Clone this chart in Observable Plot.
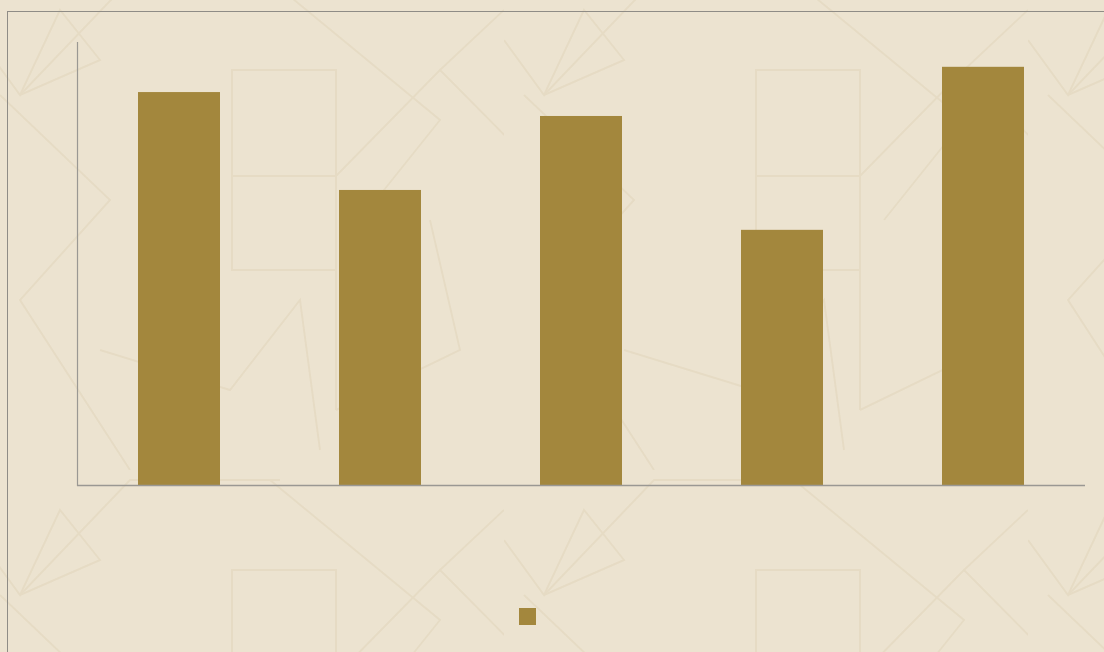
<!DOCTYPE html>
<html>
<head>
<meta charset="utf-8">
<script src="https://cdn.jsdelivr.net/npm/d3@7"></script>
<script src="https://cdn.jsdelivr.net/npm/@observablehq/plot@0.6"></script>
<style>
  html, body { margin: 0; padding: 0; width: 1104px; height: 652px; overflow: hidden; background: #ECE3D0; font-family: "Noto Sans", sans-serif; }
  #bg { position: absolute; left: 0; top: 0; width: 1104px; height: 652px; }
  #frame { position: absolute; left: 7px; top: 11px; width: 1200px; height: 700px; border-top: 1.5px solid #8f8c86; border-left: 1.5px solid #8f8c86; }
  #chart { position: absolute; left: 0; top: 0; }
  #legend { position: absolute; left: 519px; top: 608px; display: flex; align-items: center; gap: 6px; }
  .sw { width: 17px; height: 17px; background: #A3873D; }
</style>
</head>
<body>
<svg id="bg" width="1104" height="652" xmlns="http://www.w3.org/2000/svg">
  <defs>
    <pattern id="geo" x="-20" y="-30" width="524" height="500" patternUnits="userSpaceOnUse">
      <g fill="none" stroke="#E4D9C1" stroke-width="2" opacity="0.75">
        <rect x="252" y="100" width="104" height="106"/>
        <polyline points="252,206 252,300 356,300"/>
        <polyline points="356,206 356,440"/>
        <polyline points="40,125 150,10 300,10"/>
        <polyline points="356,206 460,100 565,206"/>
        <polyline points="20,125 130,230 40,330 150,500"/>
        <polyline points="40,125 120,90 80,40 40,125 0,70"/>
        <polyline points="290,10 460,150 380,250"/>
        <polyline points="120,380 250,420 320,330 340,480"/>
        <polyline points="356,440 480,380 450,250"/>
        <polyline points="460,100 524,40"/>
      </g>
    </pattern>
  </defs>
  <rect width="1104" height="652" fill="url(#geo)"/>
</svg>
<div id="frame"></div>
<div id="chart"></div>
<div id="legend"><div class="sw"></div></div>
<script>
const categories = ["1", "2", "3", "4", "5"];
const values = [88.7, 66.6, 83.3, 57.6, 94.4];
const yMax = 100;

const data = categories.map((c, i) => ({category: c, value: values[i]}));

const chart = Plot.plot({
  width: 1104,
  height: 560,
  marginLeft: 77,
  marginRight: 19,
  marginTop: 42,
  marginBottom: 75,
  style: {background: "transparent", overflow: "visible"},
  x: {domain: categories, paddingInner: 0.593, paddingOuter: 0.2965, axis: null},
  y: {domain: [0, yMax], axis: null},
  marks: [
    Plot.barY(data, {x: "category", y: "value", fill: "#A3873D"}),
    Plot.frame({anchor: "left", stroke: "#9a9893", strokeWidth: 1.2}),
    Plot.ruleY([0], {stroke: "#9a9893", strokeWidth: 1.6})
  ]
});
document.getElementById("chart").appendChild(chart);
</script>
</body>
</html>
